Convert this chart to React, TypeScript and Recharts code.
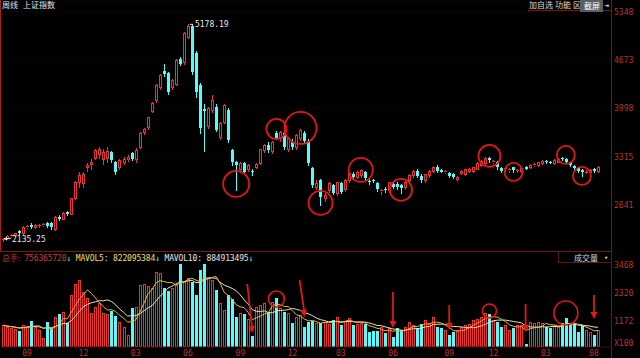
import React from 'react';
import { ComposedChart, Bar, Line, XAxis, YAxis, CartesianGrid, ReferenceDot } from 'recharts';

const RED = '#ee3232';
const CYAN = '#54fcfc';
const AXIS_RED = '#b83434';
const FRAME = '#7a1414';
const MARK = '#e41616';
const MONO = '"DejaVu Sans Mono", monospace';
const CJK = '"Noto Sans CJK SC", sans-serif';
const PAD_R = 12;

// weekly candles: [open, high, low, close]
const ohlc: number[][] = [
  [2160, 2180, 2135.25, 2170], [2175, 2215, 2165, 2205], [2205, 2240, 2195, 2225], [2225, 2255, 2210, 2245],
  [2280, 2295, 2235, 2250], [2250, 2345, 2240, 2330], [2330, 2365, 2315, 2345], [2360, 2385, 2325, 2335],
  [2335, 2370, 2320, 2355], [2355, 2380, 2335, 2365], [2360, 2395, 2345, 2380], [2385, 2400, 2330, 2345],
  [2390, 2400, 2310, 2330], [2310, 2490, 2295, 2480], [2480, 2500, 2430, 2445], [2450, 2545, 2440, 2530],
  [2545, 2560, 2500, 2520], [2520, 2745, 2510, 2735], [2740, 2980, 2720, 2960], [2960, 3100, 2900, 3060],
  [2950, 3110, 2900, 3080], [3180, 3230, 3120, 3200], [3220, 3280, 3150, 3240], [3300, 3420, 3280, 3410],
  [3350, 3450, 3300, 3420], [3280, 3420, 3220, 3390], [3300, 3450, 3250, 3400], [3380, 3400, 3240, 3270],
  [3240, 3260, 3080, 3100], [3170, 3290, 3150, 3270], [3250, 3310, 3220, 3290], [3290, 3340, 3260, 3320],
  [3370, 3390, 3270, 3290], [3280, 3440, 3250, 3410], [3460, 3660, 3440, 3650], [3660, 3720, 3640, 3700],
  [3730, 3880, 3700, 3870], [3960, 4080, 3940, 4070], [4110, 4330, 4090, 4320], [4290, 4470, 4270, 4460],
  [4520, 4620, 4450, 4480], [4490, 4510, 4200, 4220], [4290, 4400, 4260, 4390], [4340, 4680, 4320, 4670],
  [4690, 4720, 4600, 4620], [4640, 5070, 4620, 5050], [5000, 5170, 4980, 5150], [5150, 5178.19, 4470, 4500],
  [4770, 4800, 4150, 4220], [4320, 4350, 3650, 3720], [3990, 4050, 3400, 3960], [3750, 4010, 3720, 4000],
  [3970, 4180, 3940, 4110], [4010, 4050, 3680, 3690], [3600, 3800, 3560, 3790], [3810, 4050, 3790, 4040],
  [3970, 4000, 3520, 3550], [3410, 3430, 3200, 3240], [3240, 3260, 2850, 3200], [3140, 3240, 3110, 3230],
  [3230, 3250, 3080, 3100], [3140, 3220, 3120, 3200], [3120, 3140, 3060, 3100], [3180, 3230, 3160, 3210],
  [3230, 3430, 3210, 3420], [3410, 3500, 3380, 3480], [3480, 3520, 3380, 3410], [3400, 3540, 3370, 3520],
  [3650, 3680, 3560, 3580], [3580, 3680, 3540, 3660], [3650, 3670, 3430, 3450], [3430, 3600, 3400, 3580],
  [3520, 3560, 3430, 3450], [3450, 3640, 3420, 3620], [3580, 3700, 3550, 3690], [3650, 3680, 3520, 3540],
  [3540, 3560, 3200, 3230], [3160, 3180, 2900, 2920], [2900, 2990, 2870, 2950], [2990, 3000, 2640, 2760],
  [2740, 2810, 2700, 2780], [2850, 2960, 2830, 2950], [2920, 2940, 2790, 2810], [2810, 2970, 2780, 2960],
  [2950, 2970, 2810, 2830], [2860, 3000, 2840, 2990], [2990, 3100, 2970, 3090], [3080, 3100, 3010, 3030],
  [3040, 3120, 3020, 3110], [3060, 3150, 3040, 3130], [3100, 3120, 3000, 3020], [2980, 3000, 2940, 2960],
  [2990, 3010, 2960, 2980], [2950, 2970, 2840, 2860], [2840, 2870, 2800, 2845], [2870, 2890, 2830, 2850],
  [2850, 2970, 2830, 2960], [2940, 2970, 2880, 2900], [2940, 2960, 2870, 2890], [2920, 2940, 2810, 2880],
  [2890, 2980, 2870, 2970], [2990, 3070, 2970, 3060], [3060, 3130, 3040, 3120], [3120, 3140, 3040, 3050],
  [3050, 3070, 2970, 2990], [2990, 3080, 2970, 3070], [3060, 3130, 3040, 3120], [3120, 3190, 3100, 3180],
  [3180, 3200, 3110, 3120], [3125, 3140, 3100, 3110], [3105, 3130, 3090, 3115], [3090, 3100, 3040, 3050],
  [3080, 3090, 3020, 3030], [3010, 3050, 2990, 3040], [3090, 3130, 3070, 3120], [3080, 3150, 3060, 3140],
  [3120, 3160, 3100, 3150], [3120, 3180, 3100, 3170], [3150, 3240, 3140, 3230], [3200, 3270, 3190, 3260],
  [3230, 3310, 3220, 3300], [3300, 3320, 3250, 3270], [3250, 3270, 3230, 3260], [3250, 3260, 3150, 3170],
  [3160, 3170, 3100, 3120], [3140, 3165, 3120, 3155], [3135, 3160, 3110, 3145], [3170, 3180, 3110, 3130],
  [3125, 3150, 3100, 3130], [3120, 3170, 3110, 3160], [3180, 3190, 3140, 3150], [3170, 3210, 3160, 3200],
  [3200, 3230, 3190, 3215], [3200, 3250, 3190, 3240], [3230, 3270, 3220, 3260], [3260, 3270, 3230, 3240],
  [3250, 3260, 3230, 3240], [3230, 3280, 3220, 3270], [3250, 3300, 3240, 3290], [3300, 3310, 3270, 3280],
  [3290, 3300, 3240, 3250], [3240, 3250, 3190, 3200], [3190, 3200, 3150, 3160], [3160, 3170, 3100, 3120],
  [3130, 3140, 3050, 3100], [3105, 3130, 3090, 3110], [3100, 3140, 3090, 3130], [3150, 3160, 3110, 3120],
  [3120, 3190, 3110, 3180],
];

// weekly volume (x100 units as on the axis)
const volumes = [
  1000, 930, 900, 850, 760, 1000, 980, 1170, 930, 800, 480, 1130, 880, 1340, 1460, 1540, 1090,
  2240, 2690, 2850, 2360, 2120, 1500, 1750, 1910, 1500, 1450, 1580, 1380,
  1130, 930, 600, 1700, 1750, 2650, 2690, 2600, 2520, 3180,
  3140, 2520, 2400, 2520, 2650, 3510, 2770, 2930, 2770, 2240, 3260, 3510,
  2930, 2850, 2440, 1910, 1640, 2240, 2060, 1340, 1500, 1460, 1250, 560,
  1750, 1830, 1910, 1540, 1950, 2110, 1700, 1540, 1500, 1090, 1340, 1400, 930, 1130, 1170, 1090,
  1090, 1130, 1050, 1210, 1340, 1010, 1170, 1300, 1010, 1050, 1100, 1050, 720, 760, 760, 930, 680, 880, 520, 880, 800,
  930, 1130, 1000, 880, 1050, 1210, 1100, 1340, 930, 880, 800, 600, 720, 800, 930, 1010, 1050, 1210, 1250, 1340,
  1500, 1460, 1210, 1130, 930, 1010, 800, 880, 1010, 1000, 230, 1130, 1090, 1130, 1100, 930, 880, 1010, 930, 1090,
  1300, 1050, 1050, 720, 1010, 800, 720, 600, 800,
];

const priceTicks = [2641, 3315, 3998, 4673, 5348];
const volumeTicks = [1172, 2320, 3468];
const monthTickIdx = [6, 20, 33, 46, 59, 72, 84, 97, 111, 122, 135, 147];
const monthTickText = ['09', '12', '03', '06', '09', '12', '03', '06', '09', '12', '03', '08'];

// hand-drawn annotations (week index, value, radius / length in px)
const priceCircles = [
  { i: 58, v: 2936, r: 13 }, { i: 68, v: 3706, r: 10 }, { i: 74, v: 3720, r: 16 },
  { i: 79, v: 2670, r: 12 }, { i: 89, v: 3132, r: 12 }, { i: 99, v: 2852, r: 11 },
  { i: 121, v: 3328, r: 11 }, { i: 127, v: 3104, r: 9 }, { i: 140, v: 3342, r: 9 },
  { i: 144, v: 3048, r: 9 },
];
const volumeCircles = [{ i: 68, v: 2075, r: 8 }, { i: 121, v: 1583, r: 7 }, { i: 140, v: 1500, r: 12 }];
const volumeArrows = [
  { i: 62, v: 680, len: 49, dx: -5 }, { i: 75, v: 1340, len: 37, dx: -5 }, { i: 97, v: 890, len: 36, dx: 0 },
  { i: 111, v: 800, len: 25, dx: 0 }, { i: 130, v: 720, len: 28, dx: 0 }, { i: 147, v: 1250, len: 24, dx: 0 },
];

const avg = (arr: number[]) => arr.reduce((a, b) => a + b, 0) / arr.length;

const rows = ohlc.map(([o, h, l, c], i) => ({
  i, o, h, l, c,
  range: [l, h],
  up: c >= o,
  vol: volumes[i],
  ma5: avg(volumes.slice(Math.max(0, i - 4), i + 1)),
  ma10: avg(volumes.slice(Math.max(0, i - 9), i + 1)),
}));

const peak = rows.reduce((a, b) => (b.h > a.h ? b : a));
const low = rows.reduce((a, b) => (b.l < a.l ? b : a));

// hollow 3px box: pixel columns R-1 and R+1 outlined, column R left dark
const HollowBox = ({ R, top, bot, color }: any) => (
  <g>
    <line x1={R - 0.5} y1={top} x2={R - 0.5} y2={bot + 1} stroke={color} strokeWidth={1} />
    <line x1={R + 1.5} y1={top} x2={R + 1.5} y2={bot + 1} stroke={color} strokeWidth={1} />
    <line x1={R - 1} y1={top + 0.5} x2={R + 2} y2={top + 0.5} stroke={color} strokeWidth={1} />
    <line x1={R - 1} y1={bot + 0.5} x2={R + 2} y2={bot + 0.5} stroke={color} strokeWidth={1} />
  </g>
);

const Candle = (props: any) => {
  const { x, y, width, height, payload } = props;
  const { o, h, l, c, up } = payload;
  const top = Math.min(y, y + height);
  const span = Math.abs(height);
  const toY = (v: number) => (h === l ? top : top + ((h - v) / (h - l)) * span);
  const R = Math.round(x + width / 2);
  const color = up ? RED : CYAN;
  const yHi = Math.round(top);
  const yLo = Math.round(top + span);
  const bTop = Math.round(Math.min(toY(o), toY(c)));
  const bBot = Math.round(Math.max(toY(o), toY(c)));
  if (up) {
    return (
      <g>
        {bTop > yHi && <line x1={R + 0.5} y1={yHi} x2={R + 0.5} y2={bTop} stroke={color} />}
        {yLo > bBot && <line x1={R + 0.5} y1={bBot + 1} x2={R + 0.5} y2={yLo + 1} stroke={color} />}
        {bBot - bTop >= 2 ? (
          <HollowBox R={R} top={bTop} bot={bBot} color={color} />
        ) : (
          <rect x={R - 1} y={bTop} width={3} height={1} fill={color} />
        )}
      </g>
    );
  }
  return (
    <g>
      <line x1={R + 0.5} y1={yHi} x2={R + 0.5} y2={yLo + 1} stroke={color} />
      <rect x={R - 1} y={bTop} width={3} height={Math.max(bBot - bTop, 1)} fill={color} />
    </g>
  );
};

const VolBar = (props: any) => {
  const { x, y, width, height, payload } = props;
  const R = Math.round(x + width / 2);
  const top = Math.round(Math.min(y, y + height));
  const bot = Math.round(Math.max(y, y + height));
  if (payload.up) {
    return <HollowBox R={R} top={top} bot={bot - 1} color={RED} />;
  }
  return <rect x={R - 1} y={top} width={3} height={bot - top} fill={CYAN} />;
};

const MonthTick = (props: any) => {
  const { x, y, payload } = props;
  const k = monthTickIdx.indexOf(payload.value);
  if (k < 0) return <g />;
  return (
    <text x={x} y={y} dy={9} textAnchor="middle" fill={AXIS_RED} fontSize={8} fontFamily={MONO}>
      {monthTickText[k]}
    </text>
  );
};

const PeakLabel = ({ cx, cy }: any) => (
  <g>
    <line x1={cx - 2} y1={cy + 0.5} x2={cx + 1} y2={cy + 0.5} stroke="#e8e8e8" />
    <text x={cx + 3} y={cy} dy="0.35em" fill="#e8e8e8" fontSize={8} fontFamily={MONO}>
      {peak.h.toFixed(2)}
    </text>
  </g>
);

const LowLabel = ({ cx, cy }: any) => (
  <g>
    <line x1={cx + 1} y1={cy - 2.5} x2={cx + 8} y2={cy - 2.5} stroke="#e8e8e8" />
    <path d={`M${cx + 1},${cy - 2.5} l3,-2 l0,4 z`} fill="#e8e8e8" />
    <text x={cx + 9} y={cy - 2} dy="0.35em" fill="#e8e8e8" fontSize={8} fontFamily={MONO}>
      {low.l.toFixed(2)}
    </text>
  </g>
);

const Arrow = ({ cx, cy, len, dx }: any) => {
  const angle = (Math.atan2(dx, len) * 180) / Math.PI;
  return (
    <g>
      <line x1={cx + dx} y1={cy - len} x2={cx} y2={cy - 4} stroke={MARK} strokeWidth={1.8} />
      <path d={`M${cx - 3.5},${cy - 7} L${cx + 3.5},${cy - 7} L${cx},${cy} Z`} fill={MARK} transform={`rotate(${angle} ${cx} ${cy})`} />
    </g>
  );
};

const text = (style: React.CSSProperties, content: React.ReactNode) => (
  <div style={{ position: 'absolute', whiteSpace: 'nowrap', fontSize: 8, lineHeight: '10px', ...style }}>{content}</div>
);

export default function App() {
  return (
    <div style={{ position: 'absolute', left: 0, top: 0, width: 640, height: 358, background: '#000', overflow: 'hidden' }}>
      <div style={{ position: 'absolute', left: 0, top: 0 }}>
        <ComposedChart width={640} height={252} data={rows} margin={{ top: 0, right: 0, bottom: 0, left: 1 }}>
          <CartesianGrid vertical={false} stroke="#3a0a0a" strokeDasharray="1 3" />
          <XAxis dataKey="i" type="category" hide padding={{ left: 0, right: PAD_R }} />
          <YAxis
            orientation="right"
            width={28}
            domain={[1983, 5512]}
            allowDataOverflow
            ticks={priceTicks}
            interval={0}
            axisLine={false}
            tickLine={false}
            tickSize={0}
            tickMargin={2}
            tick={{ fill: AXIS_RED, fontSize: 8, fontFamily: MONO }}
          />
          <Bar dataKey="range" shape={Candle} isAnimationActive={false} />
          {priceCircles.map((p, k) => (
            <ReferenceDot key={k} x={p.i} y={p.v} r={p.r} fill="none" stroke={MARK} strokeWidth={1.8} />
          ))}
          <ReferenceDot x={peak.i} y={peak.h} shape={PeakLabel} />
          <ReferenceDot x={low.i} y={low.l} shape={LowLabel} />
        </ComposedChart>
      </div>

      <div style={{ position: 'absolute', left: 0, top: 252 }}>
        <ComposedChart width={640} height={106} data={rows} margin={{ top: 1, right: 0, bottom: 0, left: 1 }}>
          <XAxis
            dataKey="i"
            type="category"
            height={11}
            interval={0}
            padding={{ left: 0, right: PAD_R }}
            axisLine={{ stroke: '#4a0c0c' }}
            tickLine={false}
            tickSize={0}
            tickMargin={0}
            tick={MonthTick}
          />
          <YAxis
            orientation="right"
            width={28}
            domain={[107, 3960]}
            allowDataOverflow
            ticks={volumeTicks}
            interval={0}
            axisLine={false}
            tickLine={false}
            tickSize={0}
            tickMargin={2}
            tick={{ fill: AXIS_RED, fontSize: 8, fontFamily: MONO }}
          />
          <Bar dataKey="vol" shape={VolBar} isAnimationActive={false} />
          <Line dataKey="ma10" type="linear" stroke="#e6e2c8" strokeWidth={1} dot={false} isAnimationActive={false} />
          <Line dataKey="ma5" type="linear" stroke="#e8b838" strokeWidth={1} dot={false} isAnimationActive={false} />
          {volumeCircles.map((p, k) => (
            <ReferenceDot key={k} x={p.i} y={p.v} r={p.r} fill="none" stroke={MARK} strokeWidth={1.6} />
          ))}
          {volumeArrows.map((a, k) => (
            <ReferenceDot key={'a' + k} x={a.i} y={a.v} shape={(p: any) => <Arrow {...p} len={a.len} dx={a.dx} />} />
          ))}
        </ComposedChart>
      </div>

      {/* frame lines */}
      <div style={{ position: 'absolute', left: 611, top: 0, width: 1, height: 358, background: FRAME }} />
      <div style={{ position: 'absolute', left: 0, top: 251, width: 612, height: 1, background: FRAME }} />
      <div style={{ position: 'absolute', left: 0, top: 0, width: 1, height: 251, background: '#a81c1c' }} />
      <div style={{ position: 'absolute', left: 528, top: 10, width: 84, height: 1, background: FRAME }} />

      {/* header texts */}
      {text({ left: 2, top: 0, color: '#e6e6e6', fontFamily: CJK }, <>周线<span style={{ marginLeft: 5 }}>上证指数</span></>)}
      {text({ left: 529, top: 0, color: '#dcdcdc', fontFamily: CJK }, '加自选')}
      {text({ left: 555, top: 0, color: '#dcdcdc', fontFamily: CJK }, '功能')}
      {text({ left: 573, top: 0, color: '#dcdcdc', fontFamily: CJK }, '区')}
      <div style={{ position: 'absolute', left: 580, top: 0, width: 23, height: 12, background: '#5e5e5e' }} />
      {text({ left: 584, top: 1, color: '#ffffff', fontFamily: CJK }, '截屏')}
      {text({ left: 604, top: 1, color: '#e6e6e6', fontFamily: MONO }, '⇥')}

      {text(
        { left: 2, top: 253, fontFamily: MONO, letterSpacing: -0.15 },
        <>
          <span style={{ color: '#c83030', fontFamily: CJK }}>总手:</span>
          <span style={{ color: '#c84040' }}> 756365720</span>
          <span style={{ color: CYAN }}>↓</span>
          <span style={{ color: '#e8e070' }}> MAVOL5: 822095384</span>
          <span style={{ color: CYAN }}>↓</span>
          <span style={{ color: '#e6e6e6' }}> MAVOL10: 884913495</span>
          <span style={{ color: CYAN }}>↓</span>
        </>
      )}

      <div style={{ position: 'absolute', left: 558, top: 252, width: 53, height: 10, borderLeft: `1px solid #5a1818`, borderBottom: `1px solid #5a1818` }} />
      {text({ left: 574, top: 253, color: '#d8d8d8', fontFamily: CJK }, '成交量')}
      {text({ left: 604, top: 253, color: '#d8d8d8', fontFamily: MONO, fontSize: 7 }, '▾')}
      {text({ left: 614, top: 339, color: AXIS_RED, fontFamily: MONO }, 'X100')}
    </div>
  );
}
